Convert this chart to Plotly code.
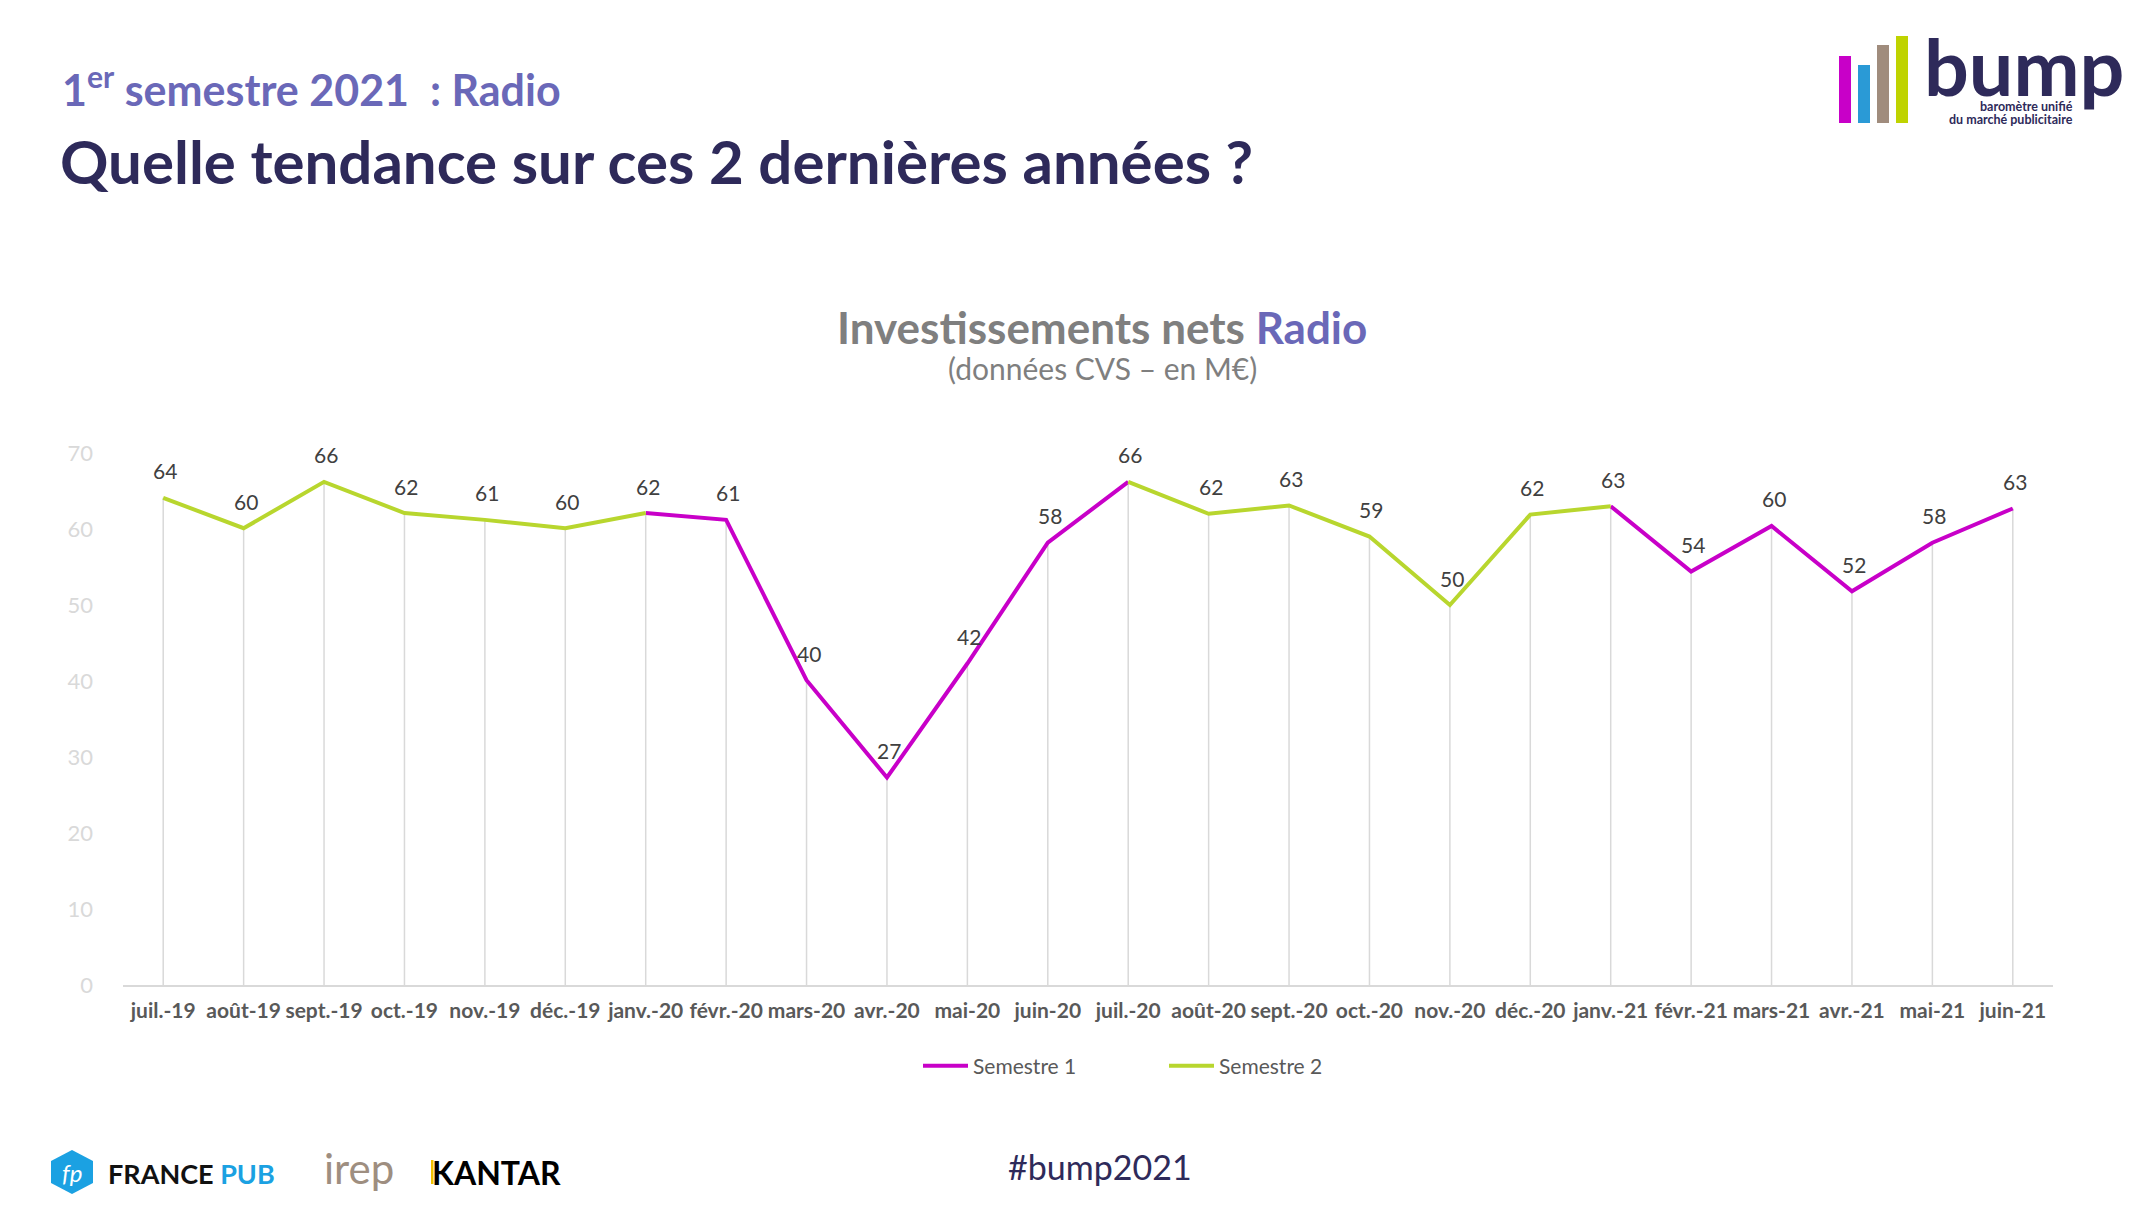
import plotly.graph_objects as go

# données
mois = ["juil.-19", "août-19", "sept.-19", "oct.-19", "nov.-19", "déc.-19",
        "janv.-20", "févr.-20", "mars-20", "avr.-20", "mai-20", "juin-20",
        "juil.-20", "août-20", "sept.-20", "oct.-20", "nov.-20", "déc.-20",
        "janv.-21", "févr.-21", "mars-21", "avr.-21", "mai-21", "juin-21"]
invest = [64.1, 60.1, 66.2, 62.1, 61.2, 60.1, 62.1, 61.2, 40.1, 27.3, 42.3, 58.2,
          66.2, 62.0, 63.1, 59.0, 50.0, 61.9, 63.0, 54.4, 60.4, 51.8, 58.2, 62.7]
semestre = [2, 2, 2, 2, 2, 2, 1, 1, 1, 1, 1, 1,
            2, 2, 2, 2, 2, 2, 1, 1, 1, 1, 1, 1]

# a segment takes the colour of the semester of its starting month
def serie(num):
    out = []
    for i, v in enumerate(invest):
        if semestre[i] == num or (i > 0 and semestre[i - 1] == num):
            out.append(v)
        else:
            out.append(None)
    return out

sem1 = serie(1)
sem2 = serie(2)

MAGENTA = "#C800C8"
VERT = "#B8D62E"
NAVY = "#2E2A5A"
LAVANDE = "#6A68B8"
GRIS = "#7F7F7F"
FONT = "Lato"

W, H, OFF = 2130, 1198, 8
ML, MR, MT, MB = 115, 85, 445, 221
PW = W - ML - MR
PH = H - MT - MB


def px(x):
    return (x - OFF - ML) / PW


def py(y):
    return (H - MB + OFF - y) / PH


fig = go.Figure()

# drop lines
fig.add_trace(go.Scatter(
    x=mois, y=invest, mode="markers", marker=dict(size=0, opacity=0),
    showlegend=False, hoverinfo="skip",
    error_y=dict(type="data", symmetric=False, array=[0] * len(invest),
                 arrayminus=invest, width=0, thickness=1.5, color="#D9D9D9"),
))
fig.add_trace(go.Scatter(x=mois, y=sem1, mode="lines", name="Semestre 1",
                         line=dict(color=MAGENTA, width=4)))
fig.add_trace(go.Scatter(x=mois, y=sem2, mode="lines", name="Semestre 2",
                         line=dict(color=VERT, width=4)))

fig.update_xaxes(
    type="category", range=[-0.5, len(mois) - 0.5], showgrid=False,
    showline=True, linecolor="#D9D9D9", linewidth=2, ticks="",
    ticklabelstandoff=6,
    tickfont=dict(family=FONT, size=21, color="#595959", weight="bold"),
)
fig.update_yaxes(
    range=[0, 70], dtick=10, showgrid=False, zeroline=False, showline=False,
    ticks="", ticklabelstandoff=29,
    tickfont=dict(family=FONT, size=22, color="#D9D9D9"),
)

# étiquettes de valeurs
annots = [dict(x=m, y=v, xref="x", yref="y", text=f"{v:.0f}", showarrow=False,
               xshift=2, yshift=27, yanchor="middle",
               font=dict(family=FONT, size=21, color="#404040"))
          for m, v in zip(mois, invest)]

textes = [
    dict(text="1<sup>er</sup> semestre 2021  : Radio", x=px(60), y=py(86),
         xanchor="left", yanchor="middle",
         font=dict(family=FONT, size=43, color=LAVANDE, weight="bold")),
    dict(text="Quelle tendance sur ces 2 dernières années ?", x=px(58), y=py(161),
         xanchor="left", yanchor="middle",
         font=dict(family=FONT, size=60, color=NAVY, weight="bold")),
    dict(text="Investissements nets <span style='color:%s'>Radio</span>" % LAVANDE,
         x=px(1102), y=py(327), xanchor="center", yanchor="middle",
         font=dict(family=FONT, size=44, color=GRIS, weight="bold")),
    dict(text="(données CVS – en M€)", x=px(1102), y=py(368),
         xanchor="center", yanchor="middle",
         font=dict(family=FONT, size=30, color=GRIS)),
    dict(text="#bump2021", x=px(1100), y=py(1166), xanchor="center", yanchor="middle",
         font=dict(family=FONT, size=34, color=NAVY)),
    # logo bump
    dict(text="bump", x=px(1922), y=py(65), xanchor="left", yanchor="middle",
         font=dict(family=FONT, size=79, color=NAVY, weight="bold")),
    dict(text="baromètre unifié", x=px(2075), y=py(106),
         xanchor="right", yanchor="middle",
         font=dict(family=FONT, size=12.5, color=NAVY, weight="bold")),
    dict(text="du marché publicitaire", x=px(2075), y=py(119),
         xanchor="right", yanchor="middle",
         font=dict(family=FONT, size=12.5, color=NAVY, weight="bold")),
    # logos partenaires
    dict(text="fp", x=px(72), y=py(1172), xanchor="center", yanchor="middle",
         font=dict(family=FONT, size=24, color="white", style="italic")),
    dict(text="FRANCE <span style='color:#1BA1E2'>PUB</span>", x=px(106), y=py(1173),
         xanchor="left", yanchor="middle",
         font=dict(family=FONT, size=27, color="#111111", weight="bold")),
    dict(text="irep", x=px(322), y=py(1168), xanchor="left", yanchor="middle",
         font=dict(family=FONT, size=42, color="#9E8E80")),
    dict(text="KANTAR", x=px(430), y=py(1172), xanchor="left", yanchor="middle",
         font=dict(family=FONT, size=32, color="#000000", weight="bold")),
]
for a in textes:
    a.update(xref="paper", yref="paper", showarrow=False)
annots += textes

shapes = []
# barres du logo bump
for xc, top, col in [(1845, 56, "#C800C8"), (1864, 65, "#2A9AD6"),
                     (1883, 45, "#A08C7D"), (1902, 36, "#BFD300")]:
    shapes.append(dict(type="rect", xref="paper", yref="paper",
                       x0=px(xc - 6), x1=px(xc + 6), y0=py(123), y1=py(top),
                       fillcolor=col, line=dict(width=0)))
# hexagone France Pub
hexa = [(72, 1150), (93, 1161), (93, 1183), (72, 1194), (51, 1183), (51, 1161)]
path = "M " + " L ".join(f"{px(a)},{py(b)}" for a, b in hexa) + " Z"
shapes.append(dict(type="path", xref="paper", yref="paper", path=path,
                   fillcolor="#1BA1E2", line=dict(width=0)))
# trait jaune Kantar
shapes.append(dict(type="rect", xref="paper", yref="paper",
                   x0=px(431), x1=px(433.5), y0=py(1184), y1=py(1160),
                   fillcolor="#F2C200", line=dict(width=0)))

fig.update_layout(
    width=W, height=H, margin=dict(l=ML, r=MR, t=MT, b=MB),
    paper_bgcolor="white", plot_bgcolor="white",
    annotations=annots, shapes=shapes,
    legend=dict(orientation="h", x=px(918), y=py(1066), xanchor="left",
                yanchor="middle", itemwidth=45, entrywidth=186,
                entrywidthmode="pixels",
                font=dict(family=FONT, size=21, color="#595959")),
)

fig.write_html("out.html")
